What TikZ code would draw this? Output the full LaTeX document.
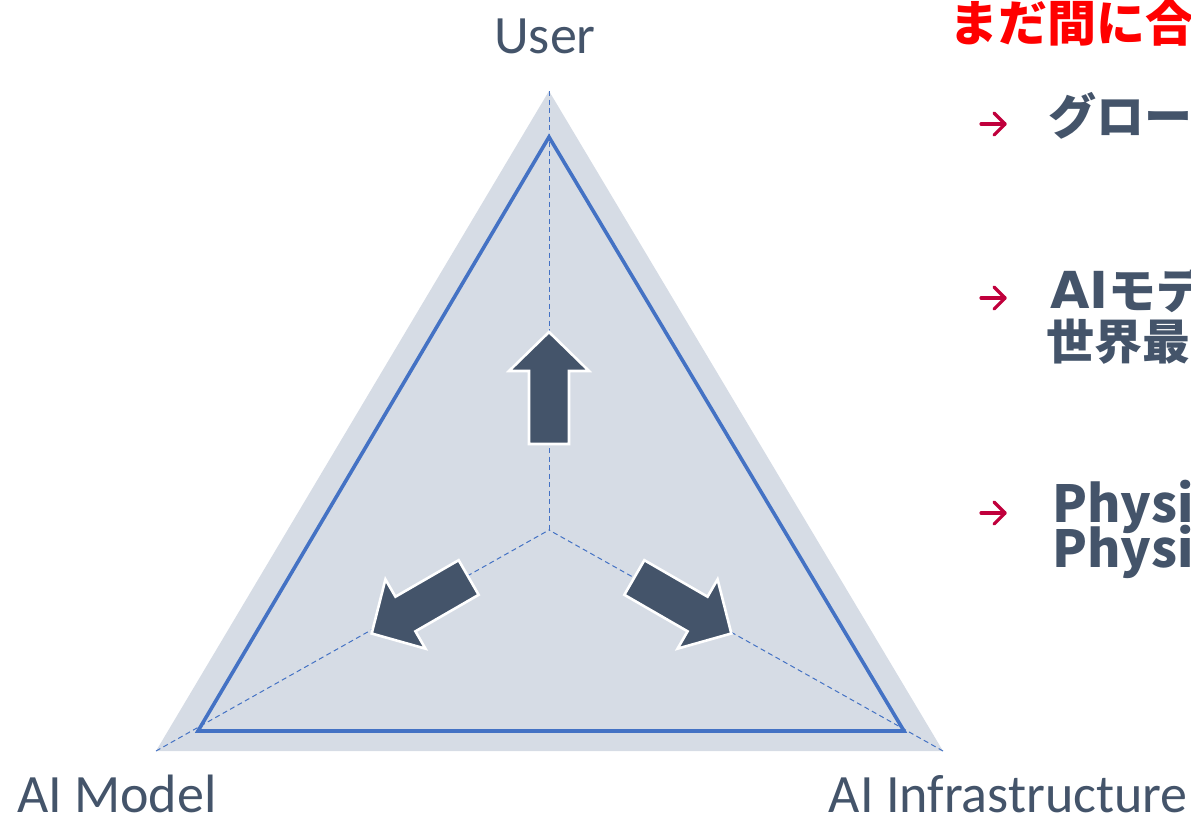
\documentclass[tikz,border=0pt]{standalone}
\usepackage{fontspec}
\usetikzlibrary{calc}
\setmainfont{Carlito}
\newfontfamily\jp{Noto Sans CJK JP}
\newfontfamily\latb{DejaVu Sans}
\definecolor{slate}{HTML}{44546A}
\definecolor{trifill}{HTML}{D6DCE5}
\definecolor{triblue}{HTML}{4472C4}
\definecolor{bulletred}{HTML}{C0003C}
\definecolor{titlered}{HTML}{FF0000}
\newcommand{\bigLat}[1]{{\fontsize{51}{48}\selectfont #1}}
\tikzset{
  lab/.style={font=\fontsize{54}{60}\selectfont, text=slate, inner sep=0pt},
  jptxt/.style={font=\jp\bfseries\fontsize{48}{48}\selectfont, text=slate, inner sep=0pt},
  jptitle/.style={font=\jp\bfseries\fontsize{49}{50}\selectfont, text=titlered, inner sep=0pt},
  bigarrow/.style={fill=slate, draw=white, line width=2.6pt, line join=miter},
  guide/.style={draw=triblue, line width=1pt, dash pattern=on 5pt off 3.5pt},
  bul/.style={draw=bulletred, line width=3.2pt, line cap=round, line join=round},
}
\begin{document}
\begin{tikzpicture}[x=1pt,y=-1pt]
\useasboundingbox (0,0) rectangle (1191,817);
\clip (0,0) rectangle (1191,817);
% vertices
\coordinate (OT) at (549,91);
\coordinate (OL) at (156,751);
\coordinate (OR) at (943,751);
\coordinate (IT) at (549,137);
\coordinate (IL) at (198,731);
\coordinate (IR) at (904,731);
\coordinate (C) at (549,530);
\coordinate (CU) at (549,531);
\coordinate (CL) at (544,534);
\coordinate (CR) at (559,534);
% outer triangle
\fill[trifill] (OT) -- (OL) -- (OR) -- cycle;
% guides
\draw[guide] (OT) -- (C);
\draw[guide] (OL) -- (C);
\draw[guide] (OR) -- (C);
% inner triangle
\draw[triblue, line width=3.6pt, line join=miter] (IT) -- (IL) -- (IR) -- cycle;
% arrows
\begin{scope}[shift={(CU)}, x=1pt, y=1pt]
\draw[bigarrow] (0,199) -- (40,160) -- (20,160) -- (20,87) -- (-20,87) -- (-20,160) -- (-40,160) -- cycle;
\end{scope}
\begin{scope}[shift={(CL)}, x=1pt, y=1pt, rotate=120]
\draw[bigarrow] (0,199) -- (40,160) -- (20,160) -- (20,87) -- (-20,87) -- (-20,160) -- (-40,160) -- cycle;
\end{scope}
\begin{scope}[shift={(CR)}, x=1pt, y=1pt, rotate=-120]
\draw[bigarrow] (0,199) -- (40,160) -- (20,160) -- (20,87) -- (-20,87) -- (-20,160) -- (-40,160) -- cycle;
\end{scope}
% labels
\node[lab, anchor=base] (user) at (545,53) {User};
\node[lab, anchor=base west] (model) at (17,812) {AI Model};
\node[lab, anchor=base east] (infra) at (1188,812) {AI Infrastructure};
% right side text
\node[jptitle, anchor=base west] (title) at (949,41) {まだ間に合};
\coordinate (a1) at (981,124);
\coordinate (a2) at (981,298);
\coordinate (a3) at (981,513);
\foreach \a in {a1,a2,a3}{
  \draw[bul] (\a) -- ++(24,0);
  \draw[bul] ($(\a)+(13,-11)$) -- ($(\a)+(24,0)$) -- ($(\a)+(13,11)$);
}
\node[jptxt, anchor=base west] (t1) at (1048,134) {グロー};
\node[jptxt, anchor=base west] (t2a) at (1050,308) {{\latb\bfseries\fontsize{51}{48}\selectfont AI}モデ};
\node[jptxt, anchor=base west] (t2b) at (1046,359) {世界最};
\node[jptxt, anchor=base west] (t3a) at (1052,522) {\bigLat{Physi}};
\node[jptxt, anchor=base west] (t3b) at (1052,567) {\bigLat{Physi}};
\end{tikzpicture}
\end{document}
